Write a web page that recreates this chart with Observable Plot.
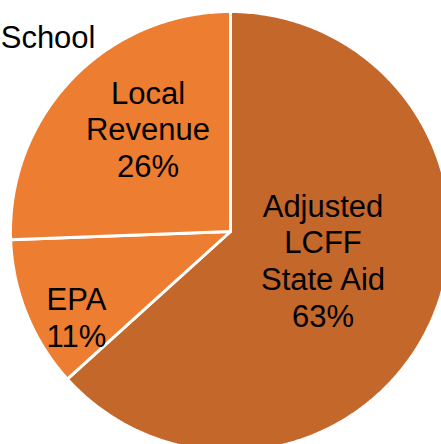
<!DOCTYPE html>
<html>
<head>
<meta charset="utf-8">
<script src="https://cdn.jsdelivr.net/npm/d3@7"></script>
<script src="https://cdn.jsdelivr.net/npm/@observablehq/plot@0.6"></script>
<style>
  html, body { margin: 0; padding: 0; background: #fff; overflow: hidden; }
  #chart svg { display: block; }
</style>
</head>
<body>
<div id="chart"></div>
<script>
// Data
const categories = ["Adjusted\nLCFF\nState Aid", "EPA", "Local\nRevenue"];
const values = [63.3, 11.1, 25.6];
const colors = ["#C4672A", "#ED7D31", "#ED7D31"];
const titleText = "School";

// Layout (label placement within each slice: fraction of angle, fraction of radius)
const W = 441, H = 444;
const cx = 230, cy = 231, R = 220;
const labelAngleFrac = [0.47, 0.33, 0.58];
const labelRadiusFrac = [0.44, 0.8, 0.6];

const arcs = d3.pie().sort(null).value(d => d)(values);

// polygon points for each wedge, in radius units
const wedgePts = [];
arcs.forEach((a, i) => {
  wedgePts.push({x: 0, y: 0, k: i});
  const n = Math.max(8, Math.ceil((a.endAngle - a.startAngle) / 0.01));
  for (let j = 0; j <= n; j++) {
    const t = a.startAngle + (a.endAngle - a.startAngle) * j / n;
    wedgePts.push({x: Math.sin(t), y: -Math.cos(t), k: i});
  }
  wedgePts.push({x: 0, y: 0, k: i});
});

const labels = arcs.map((a, i) => {
  const m = a.startAngle + (a.endAngle - a.startAngle) * labelAngleFrac[i];
  return {
    x: Math.sin(m) * labelRadiusFrac[i],
    y: -Math.cos(m) * labelRadiusFrac[i],
    text: categories[i] + "\n" + Math.round(values[i]) + "%"
  };
});

const chart = Plot.plot({
  width: W,
  height: H,
  margin: 0,
  x: {domain: [-1, 1], range: [cx - R, cx + R], axis: null},
  y: {domain: [-1, 1], range: [cy - R, cy + R], axis: null},
  style: {fontFamily: "'Liberation Sans', Arial, sans-serif", background: "#fff"},
  marks: [
    Plot.line(wedgePts, {
      x: "x", y: "y", z: "k",
      fill: d => colors[d.k],
      stroke: "#fff", strokeWidth: 3, strokeLinejoin: "miter",
      curve: "linear"
    }),
    Plot.text(labels, {
      x: "x", y: "y", text: "text",
      fontSize: 31, lineHeight: 1.18, fill: "#000"
    }),
    Plot.text([titleText], {
      frameAnchor: "top-left", textAnchor: "end", lineAnchor: "middle",
      dx: 95, dy: 38, fontSize: 31, fill: "#000"
    })
  ]
});
document.getElementById("chart").appendChild(chart);
</script>
</body>
</html>
